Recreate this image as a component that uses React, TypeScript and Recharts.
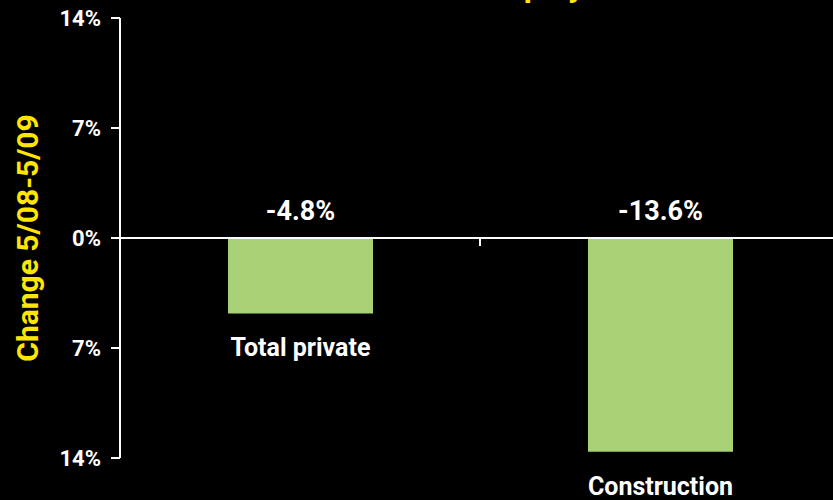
import React from 'react';
import { BarChart, Bar, XAxis, YAxis, ReferenceLine, LabelList, Label } from 'recharts';

const categories = ['Total private', 'Construction'];
const changeValues = [-4.8, -13.6];
const valueLabels = ['-4.8%', '-13.6%'];
const yTicks = [-14, -7, 0, 7, 14];

const data = categories.map((name, i) => ({ name, change: changeValues[i], label: valueLabels[i] }));

const FONT = "Roboto, sans-serif";
const YELLOW = '#ffe600';
const GREEN = '#a9d175';

function ValueLabel(props: any) {
  const { x, y, width, height, index } = props;
  const top = Math.min(y, y + height);
  return (
    <text x={x + width / 2} y={top - 18} textAnchor="middle" fill="#fff" fontFamily={FONT} fontWeight={700} fontSize={27}>
      {data[index].label}
    </text>
  );
}

function CategoryLabel(props: any) {
  const { x, y, width, height, index } = props;
  const bottom = Math.max(y, y + height);
  return (
    <text x={x + width / 2} y={bottom + 43} textAnchor="middle" fill="#fff" fontFamily={FONT} fontWeight={700} fontSize={25}>
      {data[index].name}
    </text>
  );
}

function ZeroLine(props: any) {
  const { x1, x2, y1 } = props;
  const mid = (x1 + x2) / 2;
  return (
    <g>
      <line x1={x1} x2={x2 + 20} y1={y1} y2={y1} stroke="#fff" strokeWidth={2} />
      <line x1={mid} x2={mid} y1={y1} y2={y1 + 8} stroke="#fff" strokeWidth={2} />
    </g>
  );
}

export default function App() {
  return (
    <div style={{ position: 'fixed', left: 0, top: 0, width: 833, height: 500, overflow: 'hidden', background: '#000' }}>
      <div style={{ position: 'absolute', left: 478, top: -33, color: YELLOW, fontFamily: FONT, fontWeight: 700, fontSize: 32, whiteSpace: 'nowrap' }}>
        Employment
      </div>
      <BarChart width={840} height={500} data={data} margin={{ top: 18, right: 0, bottom: 42, left: 0 }}>
        <XAxis dataKey="name" hide />
        <YAxis
          width={120}
          domain={[-14, 14]}
          ticks={yTicks}
          interval={0}
          tickFormatter={(v: number) => `${Math.abs(v)}%`}
          tick={{ fill: '#fff', fontFamily: FONT, fontWeight: 700, fontSize: 22 }}
          tickSize={9}
          tickMargin={10}
          axisLine={{ stroke: '#fff', strokeWidth: 2 }}
          tickLine={{ stroke: '#fff', strokeWidth: 2 }}
        >
          <Label
            value="Change 5/08-5/09"
            angle={-90}
            position="insideLeft"
            offset={27}
            style={{ fill: YELLOW, fontFamily: FONT, fontWeight: 700, fontSize: 30, textAnchor: 'middle' }}
          />
        </YAxis>
        <ReferenceLine y={0} shape={ZeroLine} />
        <Bar dataKey="change" fill={GREEN} barSize={145} isAnimationActive={false}>
          <LabelList dataKey="label" content={ValueLabel} />
          <LabelList dataKey="name" content={CategoryLabel} />
        </Bar>
      </BarChart>
    </div>
  );
}
